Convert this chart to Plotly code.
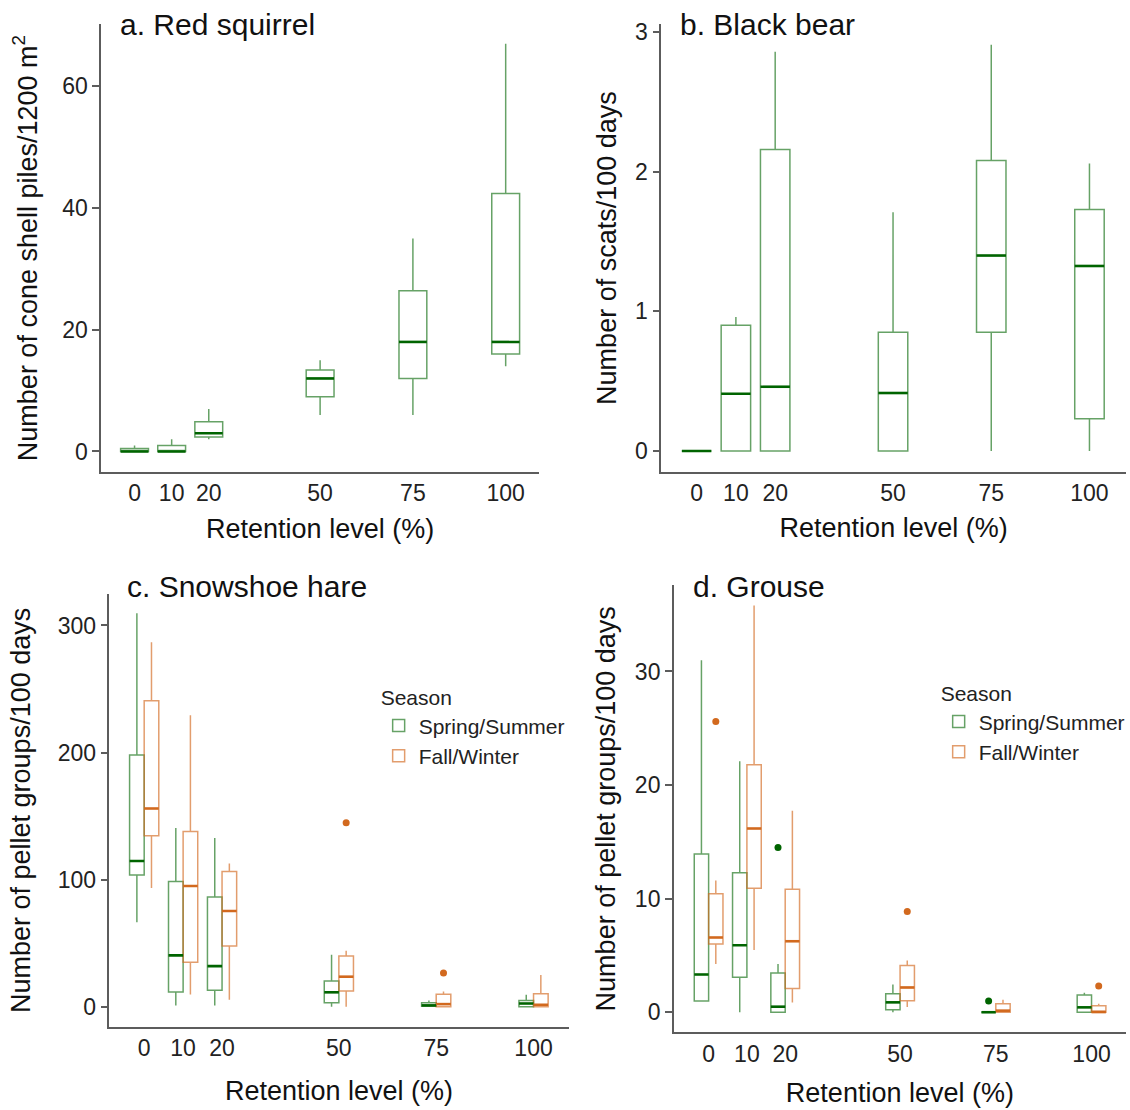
import plotly.graph_objects as go

# Retention treatments shared by every panel
RETENTION = [0, 10, 20, 50, 75, 100]
RETENTION_LABELS = ["0", "10", "20", "50", "75", "100"]
SEASONS = ["Spring/Summer", "Fall/Winter"]

# a. Red squirrel: cone shell piles / 1200 m2
squirrel_lo = [0.0, 0.0, 2.0, 6.0, 6.0, 14.0]
squirrel_q1 = [0.0, 0.0, 2.4, 9.0, 12.0, 16.0]
squirrel_med = [0.0, 0.0, 3.0, 12.0, 18.0, 18.0]
squirrel_q3 = [0.5, 1.0, 4.9, 13.4, 26.4, 42.4]
squirrel_hi = [1.0, 2.0, 7.0, 15.0, 35.0, 67.0]

# b. Black bear: scats / 100 days
bear_lo = [0.0, 0.0, 0.0, 0.0, 0.0, 0.0]
bear_q1 = [0.0, 0.0, 0.0, 0.0, 0.85, 0.23]
bear_med = [0.0, 0.41, 0.46, 0.415, 1.40, 1.325]
bear_q3 = [0.0, 0.90, 2.16, 0.85, 2.08, 1.73]
bear_hi = [0.0, 0.96, 2.86, 1.71, 2.91, 2.06]

# c. Snowshoe hare: pellet groups / 100 days, by season
hare_ss_lo = [66.5, 1.0, 1.0, 0.0, 0.0, 0.0]
hare_ss_q1 = [103.6, 11.5, 12.9, 3.0, 0.3, 0.0]
hare_ss_med = [114.6, 40.4, 31.9, 11.3, 1.0, 2.5]
hare_ss_q3 = [198.0, 98.6, 86.3, 20.3, 3.0, 4.9]
hare_ss_hi = [309.6, 140.7, 132.7, 40.9, 4.9, 9.3]

hare_fw_lo = [93.4, 9.6, 5.5, 0.0, 0.0, 0.0]
hare_fw_q1 = [134.6, 34.9, 47.8, 12.4, 0.0, 0.0]
hare_fw_med = [156.0, 95.0, 75.3, 23.6, 2.0, 1.5]
hare_fw_q3 = [240.7, 137.9, 106.3, 39.8, 9.8, 10.1]
hare_fw_hi = [286.8, 229.4, 112.6, 44.0, 11.9, 25.0]
hare_fw_out_x = [50, 75]
hare_fw_out_y = [144.8, 26.5]

# d. Grouse: pellet groups / 100 days, by season
grouse_ss_lo = [0.92, 0.0, 0.0, 0.0, 0.0, 0.0]
grouse_ss_q1 = [0.98, 3.08, 0.0, 0.23, 0.0, 0.0]
grouse_ss_med = [3.32, 5.9, 0.49, 0.87, 0.0, 0.43]
grouse_ss_q3 = [13.94, 12.28, 3.45, 1.63, 0.0, 1.51]
grouse_ss_hi = [31.0, 22.1, 4.25, 2.45, 0.0, 1.72]
grouse_ss_out_x = [20, 75]
grouse_ss_out_y = [14.5, 0.98]

grouse_fw_lo = [4.25, 5.48, 0.86, 0.46, 0.0, 0.0]
grouse_fw_q1 = [6.0, 10.92, 2.09, 1.02, 0.0, 0.0]
grouse_fw_med = [6.58, 16.18, 6.25, 2.18, 0.14, 0.02]
grouse_fw_q3 = [10.43, 21.8, 10.83, 4.11, 0.75, 0.58]
grouse_fw_hi = [11.6, 35.8, 17.75, 4.55, 1.1, 0.75]
grouse_fw_out_x = [0, 50, 100]
grouse_fw_out_y = [25.6, 8.86, 2.3]

GREEN = "#006400"
ORANGE = "#D2691E"
GREEN_EDGE = "rgba(0,100,0,0.6)"
ORANGE_EDGE = "rgba(210,105,30,0.65)"
AXIS_GREY = "#5c5c5c"
FONT = "Liberation Sans, Arial, sans-serif"

W, H = 1130, 1110

fig = go.Figure()


def add_boxes(ax, pos, lo, q1, med, q3, hi, color, edge, width, name,
              offset=0.0, legend=None):
    xs = [p + offset for p in pos]
    fig.add_trace(go.Box(
        x=xs, lowerfence=lo, q1=q1, median=med, q3=q3, upperfence=hi,
        width=width, whiskerwidth=0, boxpoints=False,
        line=dict(color=edge, width=1.5), fillcolor="rgba(255,255,255,0)",
        name=name, showlegend=legend is not None,
        legend=legend or "legend",
        xaxis="x" + ax, yaxis="y" + ax, hoverinfo="skip",
    ))
    # heavier median bar on top of each box
    mx, my = [], []
    for x, m in zip(xs, med):
        mx += [x - width / 2, x + width / 2, None]
        my += [m, m, None]
    fig.add_trace(go.Scatter(
        x=mx, y=my, mode="lines", line=dict(color=color, width=2.6),
        name=name, showlegend=False, xaxis="x" + ax, yaxis="y" + ax,
        hoverinfo="skip",
    ))


def add_outliers(ax, xs, ys, color, offset, name):
    fig.add_trace(go.Scatter(
        x=[x + offset for x in xs], y=ys, mode="markers",
        marker=dict(color=color, size=7), name=name, showlegend=False,
        xaxis="x" + ax, yaxis="y" + ax, hoverinfo="skip",
    ))


SINGLE_W = 7.5
DODGE_W = 3.75
SHIFT = 1.875

add_boxes("", RETENTION, squirrel_lo, squirrel_q1, squirrel_med, squirrel_q3,
          squirrel_hi, GREEN, GREEN_EDGE, SINGLE_W, "Red squirrel")
add_boxes("2", RETENTION, bear_lo, bear_q1, bear_med, bear_q3, bear_hi,
          GREEN, GREEN_EDGE, SINGLE_W, "Black bear")

add_boxes("3", RETENTION, hare_ss_lo, hare_ss_q1, hare_ss_med, hare_ss_q3,
          hare_ss_hi, GREEN, GREEN_EDGE, DODGE_W, SEASONS[0], -SHIFT, "legend")
add_boxes("3", RETENTION, hare_fw_lo, hare_fw_q1, hare_fw_med, hare_fw_q3,
          hare_fw_hi, ORANGE, ORANGE_EDGE, DODGE_W, SEASONS[1], SHIFT, "legend")
add_outliers("3", hare_fw_out_x, hare_fw_out_y, ORANGE, SHIFT, SEASONS[1])

add_boxes("4", RETENTION, grouse_ss_lo, grouse_ss_q1, grouse_ss_med,
          grouse_ss_q3, grouse_ss_hi, GREEN, GREEN_EDGE, DODGE_W,
          SEASONS[0], -SHIFT, "legend2")
add_boxes("4", RETENTION, grouse_fw_lo, grouse_fw_q1, grouse_fw_med,
          grouse_fw_q3, grouse_fw_hi, ORANGE, ORANGE_EDGE, DODGE_W,
          SEASONS[1], SHIFT, "legend2")
add_outliers("4", grouse_ss_out_x, grouse_ss_out_y, GREEN, -SHIFT, SEASONS[0])
add_outliers("4", grouse_fw_out_x, grouse_fw_out_y, ORANGE, SHIFT, SEASONS[1])

# panel frames in pixels: (left, right, top, bottom)
frames = {
    "": (101.5, 541.0, 19.3, 469.0),
    "2": (663.6, 1130.0, 19.3, 469.0),
    "3": (109.8, 570.6, 591.6, 1026.5),
    "4": (676.2, 1130.0, 582.8, 1032.0),
}
x_ranges = {"": [-9, 109], "2": [-9, 109.3], "3": [-8.93, 109], "4": [-9.09, 109]}
y_ranges = {"": [-3.35, 70.2], "2": [-0.15, 3.057], "3": [-15.9, 324.8],
            "4": [-1.77, 37.6]}
y_ticks = {"": [0, 20, 40, 60], "2": [0, 1, 2, 3], "3": [0, 100, 200, 300],
           "4": [0, 10, 20, 30]}
y_titles = {
    "": "Number of cone shell piles/1200 m<sup>2</sup>",
    "2": "Number of scats/100 days",
    "3": "Number of pellet groups/100 days",
    "4": "Number of pellet groups/100 days",
}
x_standoff = {"": 14, "2": 13, "3": 21, "4": 17}
y_standoff = {"": 17, "2": 11, "3": 19, "4": 11}

layout = {}
for k, (l, r, t, b) in frames.items():
    layout["xaxis" + k] = dict(
        domain=[l / W, r / W], anchor="y" + k, range=x_ranges[k],
        tickmode="array", tickvals=RETENTION, ticktext=RETENTION_LABELS,
        showline=True, linecolor=AXIS_GREY, linewidth=1.5, ticks="",
        showgrid=False, zeroline=False,
        tickfont=dict(size=23, color="#222", family=FONT),
        title=dict(text="Retention level (%)", standoff=x_standoff[k],
                   font=dict(size=27, color="#111", family=FONT)),
    )
    layout["yaxis" + k] = dict(
        domain=[1 - b / H, 1 - t / H], anchor="x" + k, range=y_ranges[k],
        tickmode="array", tickvals=y_ticks[k],
        showline=True, linecolor=AXIS_GREY, linewidth=1.5,
        ticks="outside", ticklen=7, tickwidth=1.5, tickcolor=AXIS_GREY,
        showgrid=False, zeroline=False,
        tickfont=dict(size=23, color="#222", family=FONT),
        title=dict(text=y_titles[k], standoff=y_standoff[k],
                   font=dict(size=27, color="#111", family=FONT)),
    )

panel_titles = [
    ("a. Red squirrel", 118, 20),
    ("b. Black bear", 680, 20),
    ("c. Snowshoe hare", 125, 584),
    ("d. Grouse", 693, 584),
]
annotations = [
    dict(text=txt, xref="paper", yref="paper", x=px / W, y=1 - py / H,
         xanchor="left", yanchor="middle", showarrow=False,
         font=dict(size=30, color="#111", family=FONT))
    for txt, px, py in panel_titles
]

legend_style = dict(
    title=dict(text="Season", font=dict(size=21, color="#222", family=FONT)),
    font=dict(size=21, color="#222", family=FONT),
    bgcolor="rgba(255,255,255,0)", xanchor="left", yanchor="top",
    itemwidth=30, tracegroupgap=0,
)

fig.update_layout(
    width=W, height=H, margin=dict(l=0, r=0, t=0, b=0),
    paper_bgcolor="white", plot_bgcolor="white", boxmode="overlay",
    font=dict(family=FONT, color="#222"),
    annotations=annotations,
    legend=dict(x=380 / W, y=1 - 676 / H, **legend_style),
    legend2=dict(x=942 / W, y=1 - 672 / H, **legend_style),
    **layout,
)

fig.write_html("out.html")
